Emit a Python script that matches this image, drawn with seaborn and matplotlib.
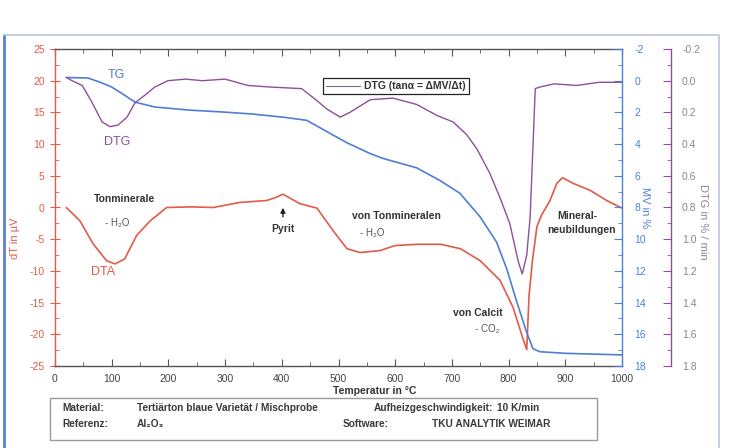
import matplotlib
matplotlib.use("Agg")
import matplotlib.pyplot as plt
import seaborn as sns
from matplotlib.ticker import MultipleLocator, FormatStrFormatter
from matplotlib.patches import Rectangle
from matplotlib.lines import Line2D

# ---------------- data ----------------
dta_temp = [20, 44, 67, 91, 106, 123, 144, 168, 197, 240, 279, 326, 373, 390, 402,
            432, 462, 490, 515, 538, 573, 600, 640, 680, 715, 750, 785, 808, 825,
            832, 836, 842, 850, 858, 873, 885, 895, 914, 944, 973, 1000]
dta_uv = [0, -2.1, -5.7, -8.4, -8.9, -8.1, -4.4, -2.1, 0, 0.1, 0, 0.8, 1.1, 1.6, 2.1,
          0.6, -0.1, -3.6, -6.5, -7.1, -6.8, -6.0, -5.8, -5.8, -6.5, -8.4, -11.5, -15.8, -20.6,
          -22.4, -14.0, -8.4, -3.0, -1.2, 1.1, 3.8, 4.7, 3.8, 2.7, 1.1, -0.1]

tg_temp = [20, 58, 80, 100, 120, 141, 176, 235, 294, 347, 402, 444, 479, 514, 556,
           578, 638, 679, 714, 750, 779, 797, 814, 832, 843, 855, 900, 1000]
tg_mv = [-0.2, -0.17, 0.1, 0.4, 0.85, 1.35, 1.66, 1.85, 1.97, 2.1, 2.3, 2.5, 3.2, 3.9, 4.6,
         4.9, 5.5, 6.3, 7.1, 8.6, 10.2, 11.9, 13.9, 15.9, 16.9, 17.1, 17.2, 17.3]

dtg_temp = [20, 30, 48, 65, 83, 97, 111, 127, 141, 159, 176, 199, 230, 260, 300, 340,
            380, 435, 460, 480, 503, 520, 556, 596, 638, 674, 702, 726, 744, 767, 785,
            802, 817, 824, 832, 838, 847, 855, 880, 920, 960, 1000]
dtg_rate = [-0.02, 0.0, 0.03, 0.135, 0.26, 0.29, 0.28, 0.23, 0.14, 0.09, 0.04, 0.0, -0.01,
            0.0, -0.01, 0.03, 0.04, 0.05, 0.12, 0.18, 0.23, 0.2, 0.12, 0.11, 0.15, 0.22,
            0.26, 0.34, 0.43, 0.585, 0.74, 0.9, 1.14, 1.22, 1.1, 0.86, 0.05, 0.04, 0.02,
            0.03, 0.01, 0.01]

x_ticks = list(range(0, 1001, 100))
dta_ticks = list(range(-25, 26, 5))
mv_ticks = list(range(-2, 19, 2))
dtg_ticks = [-0.2, 0.0, 0.2, 0.4, 0.6, 0.8, 1.0, 1.2, 1.4, 1.6, 1.8]

# ---------------- style ----------------
sns.set_style("ticks")
plt.rcParams['font.family'] = ['Liberation Sans', 'DejaVu Sans']
plt.rcParams['axes.unicode_minus'] = False

RED = '#e25a48'
BLUE = '#4d7fd2'
PURPLE = '#8d4f9c'
DTG_TXT = '#8f8296'
DARK = '#333333'

W, H = 733, 448
fig = plt.figure(figsize=(W / 100, H / 100), dpi=100)
fig.patch.set_facecolor('white')
ax = fig.add_axes([55 / W, 1 - 366 / H, 567 / W, 317 / H])
ax2 = ax.twinx()
ax3 = ax.twinx()
ax3.spines['right'].set_position(('axes', (671 - 55) / 567))

sns.lineplot(x=dta_temp, y=dta_uv, ax=ax, color=RED, lw=1.2, sort=False, estimator=None)
sns.lineplot(x=tg_temp, y=tg_mv, ax=ax2, color=BLUE, lw=1.2, sort=False, estimator=None)
sns.lineplot(x=dtg_temp, y=dtg_rate, ax=ax3, color=PURPLE, lw=1.0, sort=False, estimator=None)

# axis ranges
ax.set_xlim(0, 1000)
ax.set_ylim(-25, 25)
ax2.set_ylim(18, -2)
ax3.set_ylim(1.8, -0.2)

# ticks: x
ax.set_xticks(x_ticks)
ax.xaxis.set_minor_locator(MultipleLocator(50))
ax.tick_params(axis='x', which='major', direction='in', length=5, top=True, bottom=True,
               labelsize=7.5, labelcolor='#444444', color='#555555', pad=6)
ax.tick_params(axis='x', which='minor', direction='in', length=3, top=True, bottom=True,
               color='#555555')
# ticks: left (DTA)
ax.set_yticks(dta_ticks)
ax.yaxis.set_minor_locator(MultipleLocator(2.5))
ax.tick_params(axis='y', which='major', direction='inout', length=7, labelsize=7.5,
               labelcolor=RED, color=RED, pad=4)
ax.tick_params(axis='y', which='minor', direction='in', length=3, color=RED)
# ticks: MV
ax2.set_yticks(mv_ticks)
ax2.yaxis.set_minor_locator(MultipleLocator(1))
ax2.tick_params(axis='y', which='major', direction='in', length=6, labelsize=7.5,
                labelcolor=BLUE, color=BLUE, pad=9)
ax2.tick_params(axis='y', which='minor', direction='in', length=3, color=BLUE)
# ticks: DTG
ax3.set_yticks(dtg_ticks)
ax3.yaxis.set_major_formatter(FormatStrFormatter('%.1f'))
ax3.yaxis.set_minor_locator(MultipleLocator(0.1))
ax3.tick_params(axis='y', which='major', direction='in', length=6, labelsize=7.5,
                labelcolor=DTG_TXT, color=PURPLE, pad=8)
ax3.tick_params(axis='y', which='minor', direction='in', length=3, color=PURPLE)

# spines
for s in ['top', 'bottom']:
    ax.spines[s].set_color('#555555')
ax.spines['left'].set_color(RED)
ax.spines['right'].set_visible(False)
for a in (ax2, ax3):
    for s in ['top', 'bottom', 'left']:
        a.spines[s].set_visible(False)
ax2.spines['right'].set_color(BLUE)
ax3.spines['right'].set_color(PURPLE)
for a in (ax, ax2, ax3):
    for s in a.spines.values():
        s.set_linewidth(1.0)

# axis labels
ax.set_xlabel('Temperatur in °C', fontsize=7.5, color='#333333', fontweight='bold')
ax.xaxis.set_label_coords((375 - 55) / 567, -0.062)
ax.set_ylabel('dT in µV', fontsize=8, color=RED)
ax.yaxis.set_label_coords((20 - 55) / 567, (366 - 238) / 317)
ax2.set_ylabel('MV in %', fontsize=8, color=BLUE, rotation=270, va='center')
ax2.yaxis.set_label_coords((645 - 55) / 567, (366 - 208) / 317)
ax3.set_ylabel('DTG in % / min', fontsize=8, color=DTG_TXT, rotation=270, va='center')
ax3.yaxis.set_label_coords((703 - 55) / 567, (366 - 222) / 317)

# legend
h = Line2D([0], [0], color='#7a6a86', lw=0.8)
leg = ax3.legend(handles=[h], labels=['DTG (tanα = ΔMV/Δt)'], loc='upper left',
                 bbox_to_anchor=((318 - 55) / 567, (366 - 73) / 317), frameon=True,
                 fancybox=False, edgecolor='#222222', framealpha=1, borderpad=0.3,
                 handlelength=3.2, handletextpad=0.4,
                 prop={'weight': 'bold', 'size': 7.5})
leg.get_frame().set_linewidth(0.9)
for t in leg.get_texts():
    t.set_color('#333333')

# annotations (data coordinates of the left axis)
ax.text(109, 20.9, 'TG', color=BLUE, fontsize=9, ha='center', va='center')
ax.text(109, 10.3, 'DTG', color=PURPLE, fontsize=9, ha='center', va='center')
ax.text(85, -10.1, 'DTA', color=RED, fontsize=9, ha='center', va='center')
bold = dict(fontsize=7.5, fontweight='bold', color='#333333', ha='center', va='center')
small = dict(fontsize=7, color='#555555', ha='center', va='center')
ax.text(123, 1.3, 'Tonminerale', **bold)
ax.text(109, -2.4, '- H₂O', **small)
ax.text(402, -3.4, 'Pyrit', **bold)
ax.annotate('', xy=(402, 0.4), xytext=(402, -1.9),
            arrowprops=dict(arrowstyle='-|>', color='#222222', lw=1.0, mutation_scale=7))
ax.text(603, -1.4, 'von Tonmineralen', **bold)
ax.text(559, -4.1, '- H₂O', **small)
ax.text(746, -16.6, 'von Calcit', **bold)
ax.text(762, -19.1, '- CO₂', **small)
ax.text(921, -1.3, 'Mineral-', **bold)
ax.text(929, -3.6, 'neubildungen', **bold)

# info box
fig.patches.append(Rectangle((50 / W, 1 - 440 / H), 547 / W, 42 / H, transform=fig.transFigure,
                             fill=False, edgecolor='#999999', lw=1.0))
info = dict(fontsize=7.3, fontweight='bold', color='#3a3a3a', va='center', ha='left')
y1 = 1 - 408 / H
y2 = 1 - 424 / H
fig.text(62 / W, y1, 'Material:', **info)
fig.text(137 / W, y1, 'Tertiärton blaue Varietät / Mischprobe', **info)
fig.text(374 / W, y1, 'Aufheizgeschwindigkeit:', **info)
fig.text(497 / W, y1, '10 K/min', **info)
fig.text(62 / W, y2, 'Referenz:', **info)
fig.text(137 / W, y2, 'Al₂O₃', **info)
fig.text(343 / W, y2, 'Software:', **info)
fig.text(432 / W, y2, 'TKU ANALYTIK WEIMAR', **info)

# outer blue frame of the scan
fig.lines.append(Line2D([4 / W, 4 / W], [0, 1 - 35 / H], transform=fig.transFigure,
                        color='#5b7fd6', lw=2.0))
fig.lines.append(Line2D([4 / W, 719 / W, 719 / W], [1 - 35 / H, 1 - 35 / H, 0],
                        transform=fig.transFigure, color='#b9c5e2', lw=1.2))

fig.savefig('out.png', dpi=100, facecolor='white')
